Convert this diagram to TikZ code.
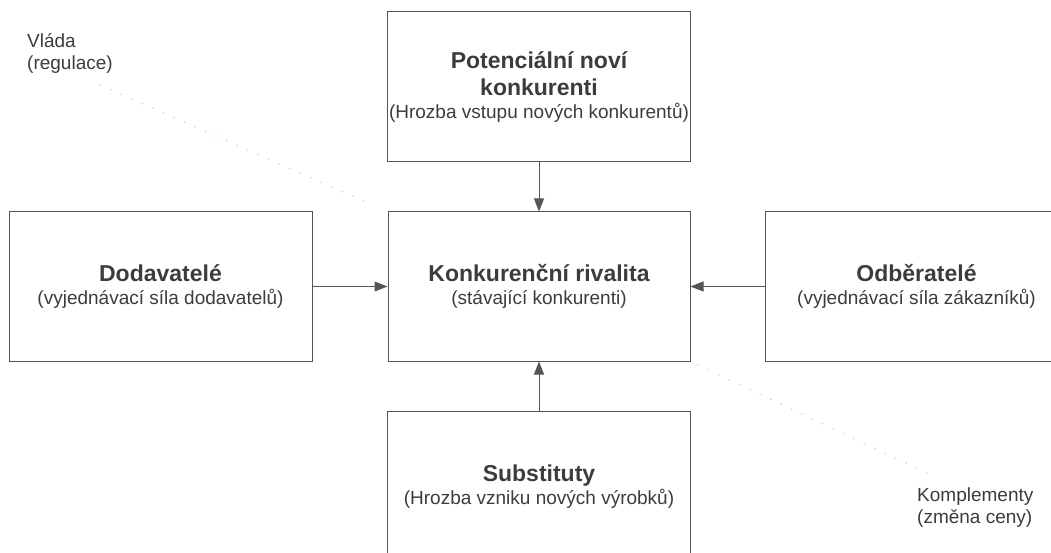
\documentclass[tikz,border=0pt]{standalone}
\usepackage{fontspec}
\setmainfont{Liberation Sans}
\usetikzlibrary{arrows.meta,positioning,calc}
\definecolor{pfLine}{HTML}{555555}
\definecolor{pfText}{HTML}{3C3C3C}
\definecolor{pfFaint}{HTML}{CFCFCF}
\newcommand{\pfTitle}[1]{{\fontsize{23}{27}\selectfont\bfseries #1}}
\tikzset{
    pfBox/.style={
        rectangle,
        draw=pfLine,
        line width=1pt,
        minimum width=303pt,
        minimum height=149pt,
        align=center,
        text=pfText,
        font=\fontsize{19}{23}\selectfont,
        inner sep=0pt
    },
    pfNote/.style={
        align=left,
        text=pfText,
        font=\fontsize{19}{22}\selectfont,
        inner sep=0pt
    }
}
\begin{document}
\begin{tikzpicture}[x=1pt, y=-1pt,
    arr/.style={-{Triangle[length=13pt,width=10pt]}, line width=1pt, draw=pfLine},
    faint/.style={draw=pfFaint, line width=1.3pt, line cap=round, dash pattern=on 0.5pt off 11pt}
]
\useasboundingbox (0,0) rectangle (1051,553);
\clip (0,0) rectangle (1051,553);

% the five forces
\node[pfBox, minimum width=302pt] (rival) at (539,286.5) {\pfTitle{Konkurenční rivalita}\\(stávající konkurenti)};
\node[pfBox, minimum height=150pt, above=49pt of rival] (novi) {\pfTitle{Potenciální noví}\\[4pt]\pfTitle{konkurenti}\\(Hrozba vstupu nových konkurentů)};
\node[pfBox, left=75pt of rival] (dodav) {\pfTitle{Dodavatelé}\\(vyjednávací síla dodavatelů)};
\node[pfBox, right=74pt of rival] (odber) {\pfTitle{Odběratelé}\\(vyjednávací síla zákazníků)};
\node[pfBox, minimum height=152pt, below=49pt of rival] (subst) {\pfTitle{Substituty}\\(Hrozba vzniku nových výrobků)};

% outside influences
\node[pfNote, anchor=north west] (vlada) at (27,33) {Vláda\\(regulace)};
\node[pfNote, anchor=north west] (kompl) at (917,488) {Komplementy\\(změna ceny)};
\coordinate (vladaTail) at (100,85);
\coordinate (komplHead) at (927,473);

\draw[arr] (novi) -- (rival);
\draw[arr] (subst) -- (rival);
\draw[arr] (dodav.east) -- (dodav.east -| rival.west);
\draw[arr] (odber.west) -- (odber.west -| rival.east);

\draw[faint, shorten >=25pt] (vladaTail) -- (rival.north west);
\draw[faint, shorten <=8pt] (rival.south east) -- (komplHead);
\end{tikzpicture}
\end{document}
